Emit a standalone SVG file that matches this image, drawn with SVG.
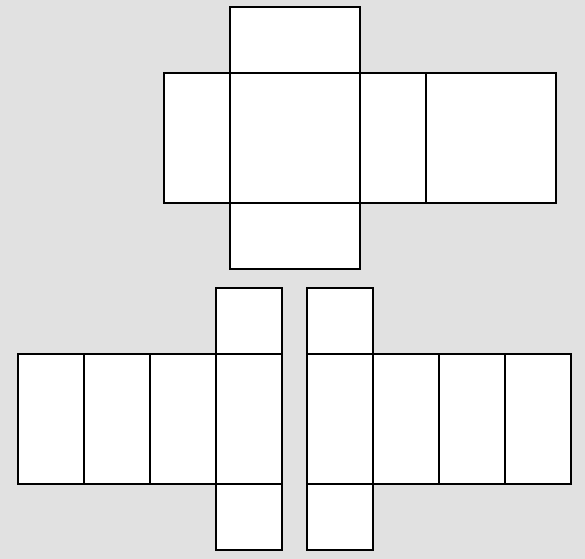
<svg xmlns="http://www.w3.org/2000/svg" width="585" height="559" viewBox="0 0 585 559">
<style>
.b{fill:#ffffff;stroke:#000000;stroke-width:2}
</style>
<rect width="585" height="559" fill="#e1e1e1"/>
<g id="torso">
<g id="torso-top"><rect class="b" x="230" y="7" width="130" height="66"/></g>
<g id="torso-left"><rect class="b" x="164" y="73" width="66" height="130"/></g>
<g id="torso-front"><rect class="b" x="230" y="73" width="130" height="130"/></g>
<g id="torso-right"><rect class="b" x="360" y="73" width="66" height="130"/></g>
<g id="torso-back"><rect class="b" x="426" y="73" width="130" height="130"/></g>
<g id="torso-bottom"><rect class="b" x="230" y="203" width="130" height="66"/></g>
</g>
<g id="left-arm">
<g id="la-top"><rect class="b" x="216" y="288" width="66" height="66"/></g>
<g id="la-1"><rect class="b" x="18" y="354" width="66" height="130"/></g>
<g id="la-2"><rect class="b" x="84" y="354" width="66" height="130"/></g>
<g id="la-3"><rect class="b" x="150" y="354" width="66" height="130"/></g>
<g id="la-4"><rect class="b" x="216" y="354" width="66" height="130"/></g>
<g id="la-bottom"><rect class="b" x="216" y="484" width="66" height="66"/></g>
</g>
<g id="right-arm">
<g id="ra-top"><rect class="b" x="307" y="288" width="66" height="66"/></g>
<g id="ra-1"><rect class="b" x="307" y="354" width="66" height="130"/></g>
<g id="ra-2"><rect class="b" x="373" y="354" width="66" height="130"/></g>
<g id="ra-3"><rect class="b" x="439" y="354" width="66" height="130"/></g>
<g id="ra-4"><rect class="b" x="505" y="354" width="66" height="130"/></g>
<g id="ra-bottom"><rect class="b" x="307" y="484" width="66" height="66"/></g>
</g>
<g id="connectors"></g>
</svg>
